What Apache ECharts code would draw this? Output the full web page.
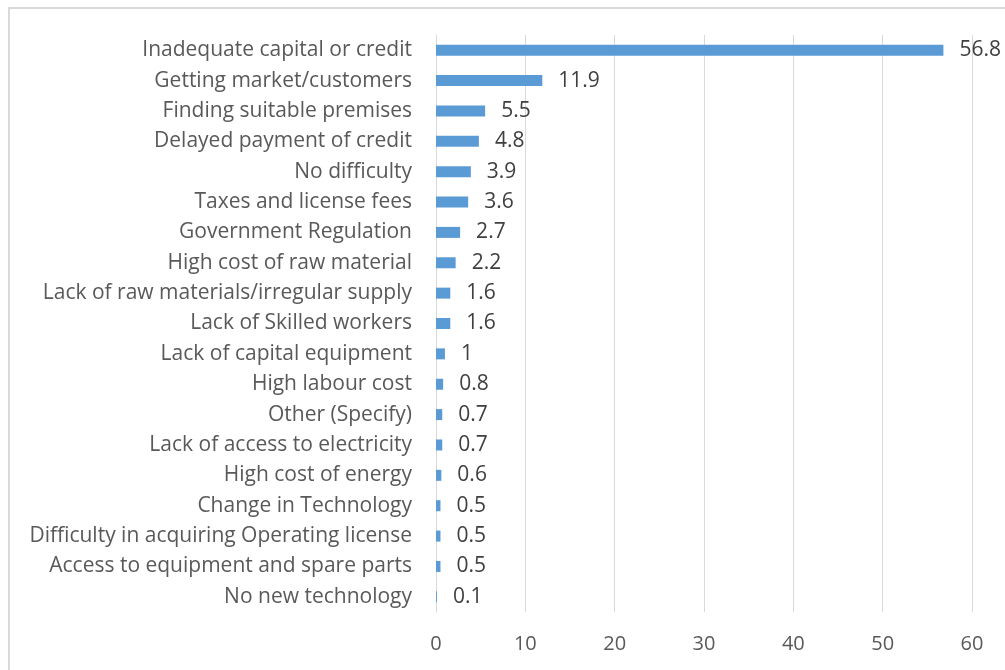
<!DOCTYPE html>
<html>
<head>
<meta charset="utf-8">
<script src="https://cdn.jsdelivr.net/npm/echarts@6/dist/echarts.min.js"></script>
<style>
  html, body { margin: 0; padding: 0; background: #fff; overflow: hidden; width: 1005px; height: 670px; }
  #frame { position: absolute; left: 8px; top: 7px; right: 0; bottom: 0; border-left: 2px solid #d9d9d9; border-top: 2px solid #d9d9d9; }
  #chart { position: absolute; left: 0; top: 0; width: 1005px; height: 670px; }
</style>
</head>
<body>
<div id="frame"></div>
<div id="chart"></div>
<script>
// categories top to bottom
var categories = [
  'Inadequate capital or credit',
  'Getting market/customers',
  'Finding suitable premises',
  'Delayed payment of credit',
  'No difficulty',
  'Taxes and license fees',
  'Government Regulation',
  'High cost of raw material',
  'Lack of raw materials/irregular supply',
  'Lack of Skilled workers',
  'Lack of capital equipment',
  'High labour cost',
  'Other (Specify)',
  'Lack of access to electricity',
  'High cost of energy',
  'Change in Technology',
  'Difficulty in acquiring Operating license',
  'Access to equipment and spare parts',
  'No new technology'
];
var values = [56.8, 11.9, 5.5, 4.8, 3.9, 3.6, 2.7, 2.2, 1.6, 1.6, 1, 0.8, 0.7, 0.7, 0.6, 0.5, 0.5, 0.5, 0.1];
var xTicks = [0, 10, 20, 30, 40, 50, 60];

var chart = echarts.init(document.getElementById('chart'));
var font = 'Open Sans, Noto Sans, sans-serif';
chart.setOption({
  animation: false,
  grid: { left: 436, right: 33, top: 35, bottom: 58 },
  xAxis: {
    type: 'value',
    min: xTicks[0],
    max: xTicks[xTicks.length - 1],
    interval: 10,
    axisLine: { show: false },
    axisTick: { show: false },
    splitLine: { lineStyle: { color: '#d9d9d9', width: 1 } },
    axisLabel: { color: '#595959', fontSize: 20, fontFamily: font, margin: 22 }
  },
  yAxis: {
    type: 'category',
    inverse: true,
    data: categories,
    axisLine: { show: true, lineStyle: { color: '#d9d9d9' } },
    axisTick: { show: false },
    axisLabel: { color: '#595959', fontSize: 21, fontFamily: font, margin: 24 }
  },
  series: [{
    type: 'bar',
    data: values,
    barWidth: 11,
    itemStyle: { color: '#5b9bd5' },
    label: {
      show: true,
      position: 'right',
      distance: 16,
      color: '#404040',
      fontSize: 21,
      fontFamily: font
    }
  }]
});
</script>
</body>
</html>
